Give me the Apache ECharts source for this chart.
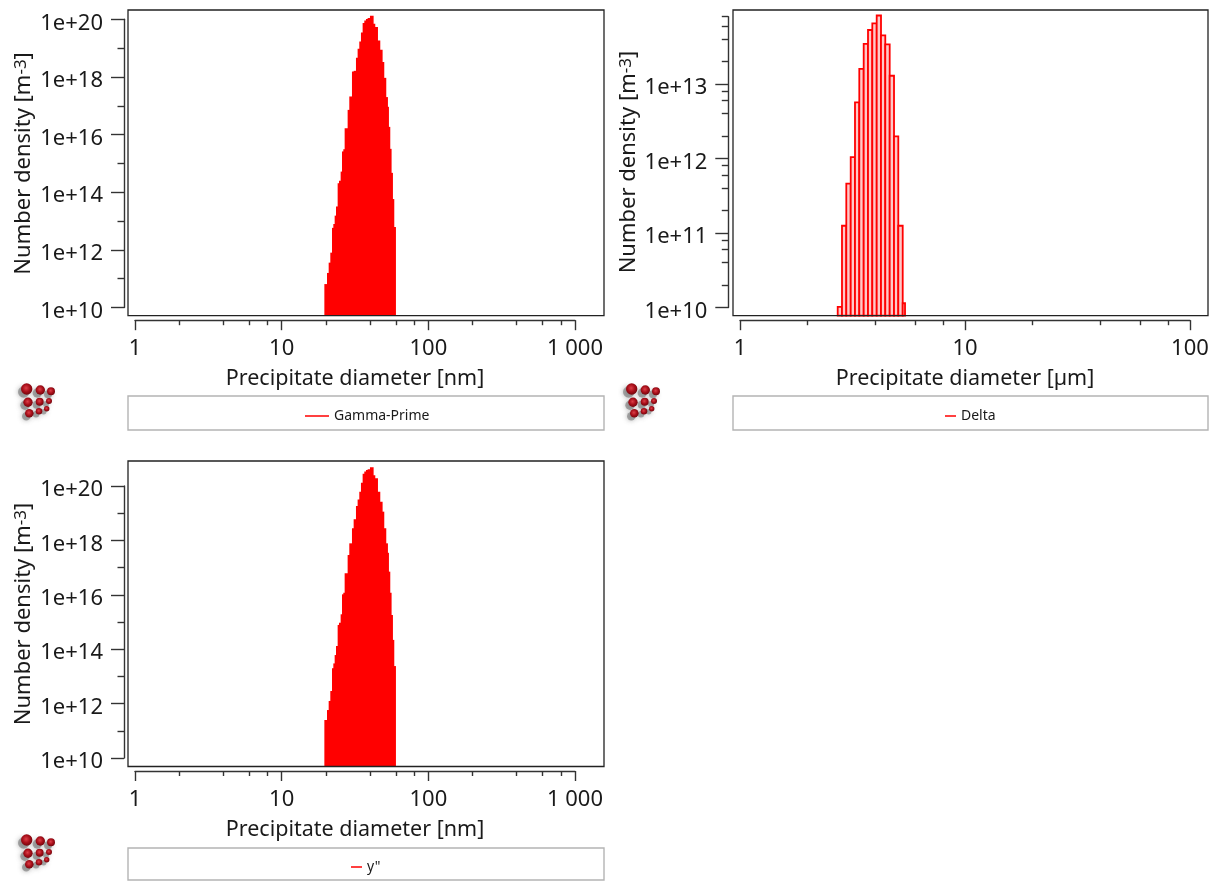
<!DOCTYPE html>
<html><head><meta charset="utf-8">
<style>html,body{margin:0;padding:0;background:#fff}#c{width:1215px;height:882px}</style>
<script src="https://cdn.jsdelivr.net/npm/echarts@6/dist/echarts.min.js"></script></head>
<body><div id="c"></div>
<script>
// Shared bin edges (nm) for the two nm histograms
const nmEdges=[19.70,20.53,21.08,21.63,22.21,22.68,23.16,23.65,24.27,24.79,25.44,25.98,26.53,27.09,28.39,29.14,30.39,31.20,32.36,33.21,34.09,35.00,35.93,36.88,37.86,38.86,40.31,42.03,43.14,45.00,46.66,48.40,49.68,51.26,52.62,53.46,54.59,55.73,56.92,58.13,59.67];
const gammaPrimeValues=[6.5e10,1.58e11,3.6e11,8.0e11,5.8e12,7.9e12,1.54e13,3.2e13,2.05e14,2.5e14,5.2e14,2.6e15,3.1e15,1.67e16,7.2e16,2.1e17,1.54e18,1.63e18,4.6e18,9.5e18,1.7e19,3.5e19,7.4e19,9.1e19,1.02e20,1.1e20,1.32e20,7.0e19,5.4e19,1.84e19,8.7e18,3.3e18,9.3e17,2.0e17,9.2e16,1.85e16,3.2e15,4.7e14,5.8e13,6.2e12];
const gammaDoublePrimeValues=[2.5e11,5.8e11,1.25e12,2.9e12,2.0e13,3.0e13,6.1e13,1.31e14,7.8e14,9.4e14,1.92e15,1.04e16,1.19e16,6.2e16,2.9e17,7.8e17,2.8e18,6.0e18,1.84e19,3.2e19,6.2e19,1.32e20,2.8e20,3.4e20,3.9e20,4.1e20,4.9e20,2.5e20,1.92e20,6.2e19,2.65e19,1.14e19,2.8e18,7.8e17,3.5e17,7.1e16,1.19e16,1.81e15,2.2e14,2.4e13];
const deltaEdges=[2.718,2.840,2.968,3.105,3.244,3.390,3.546,3.706,3.873,4.051,4.233,4.423,4.627,4.836,5.053,5.286,5.413];
const deltaValues=[1.02e10,1.25e11,4.6e11,1.04e12,5.65e12,1.6e13,3.45e13,5.3e13,6.5e13,8.3e13,4.5e13,3.4e13,1.29e13,1.98e12,1.25e11,1.14e10];
const nmMajorX=[1,10,100,1000];
const nmMinorX=[2,4,6,8,20,40,60,80,200,400,600,800];
const umMajorX=[1,10,100];
const umMinorX=[2,4,6,8,20,40,60,80];
const gammaMajorY=[1e10,1e12,1e14,1e16,1e18,1e20];
const gammaMinorY=[1e11,1e13,1e15,1e17,1e19];
const deltaMajorY=[1e10,1e11,1e12,1e13];
const deltaMinorY=[2e10,4e10,6e10,8e10,2e11,4e11,6e11,8e11,2e12,4e12,6e12,8e12,2e13,4e13,6e13,8e13];
const FONT='Noto Sans';
const INK='#333';
const TXT='#1a1a1a';
const RED='#ff0000';

function xFmt(v){return v===1000?'1 000':String(v);}
function yFmt(v){return '{v|1e+'+Math.round(Math.log10(v))+'}';}

const panels=[
 {name:'Gamma-Prime',unit:'nm',left:135,right:575,top:19.3,bottom:307.5,axisX:124,frameLeft:128,frameRight:604,frameTop:10,frameBottom:315.7,xMax:1000,yMax:1e20,base:5.2e9,edges:nmEdges,values:gammaPrimeValues,xMaj:nmMajorX,xMin:nmMinorX,yMaj:gammaMajorY,yMin:gammaMinorY,solid:true,legendTop:396,legendBottom:430,dashX:305,dashW:24,logo:[0,0],nameShift:0},
 {name:'Delta',unit:'µm',left:740,right:1190,top:16.7,bottom:307.5,axisX:728.3,frameLeft:733,frameRight:1208,frameTop:10,frameBottom:315.7,xMax:100,yMax:8e13,base:7.76e9,edges:deltaEdges,values:deltaValues,xMaj:umMajorX,xMin:umMinorX,yMaj:deltaMajorY,yMin:deltaMinorY,solid:false,legendTop:396,legendBottom:430,dashX:945,dashW:11,logo:[605,0],nameShift:0},
 {name:'y"',unit:'nm',left:135,right:575,top:486,bottom:758,axisX:124,frameLeft:128,frameRight:604,frameTop:461,frameBottom:766.5,xMax:1000,yMax:1e20,base:4.87e9,edges:nmEdges,values:gammaDoublePrimeValues,xMaj:nmMajorX,xMin:nmMinorX,yMaj:gammaMajorY,yMin:gammaMinorY,solid:true,legendTop:848,legendBottom:880,dashX:351,dashW:11,logo:[0,451],nameShift:16}
];

const spheres=[[26.7,389,5.7],[40.3,390,4.7],[51,391.3,4],[28,402.3,4.7],[39.7,401.7,4],[49,401,3],[29.3,413.3,4.3],[39,411.3,3.3],[46.7,408.7,2.7]];

const opt={animation:false,backgroundColor:'#fff',textStyle:{fontFamily:FONT},grid:[],xAxis:[],yAxis:[],series:[],legend:[],graphic:[]};
panels.forEach((p,i)=>{
 opt.grid.push({left:p.left,top:p.top,width:p.right-p.left,height:p.bottom-p.top,containLabel:false,show:false});
 const xi=opt.xAxis.length, yi=opt.yAxis.length;
 const lineStyle={color:INK,width:1.4};
 const xBase={type:'log',logBase:10,gridIndex:i,min:1,max:p.xMax,position:'bottom',offset:p.frameBottom-p.bottom+4.5,splitLine:{show:false},minorSplitLine:{show:false},axisLine:{show:true,onZero:false,lineStyle}};
 opt.xAxis.push(Object.assign({},xBase,{name:'Precipitate diameter ['+p.unit+']',nameLocation:'middle',nameGap:48,nameTextStyle:{fontFamily:FONT,fontSize:21.5,color:TXT},
  axisTick:{show:true,length:10,inside:false,customValues:p.xMaj,lineStyle},axisLabel:{show:true,margin:18,fontFamily:FONT,fontSize:22,color:TXT,customValues:p.xMaj,formatter:xFmt,hideOverlap:false}}));
 opt.xAxis.push(Object.assign({},xBase,{axisLine:{show:false},axisTick:{show:true,length:5,customValues:p.xMin,lineStyle},axisLabel:{show:false}}));
 const yBase={type:'log',logBase:10,gridIndex:i,min:1e10,max:p.yMax,position:'left',offset:p.left-p.axisX,splitLine:{show:false},minorSplitLine:{show:false},axisLine:{show:true,onZero:false,lineStyle}};
 opt.yAxis.push(Object.assign({},yBase,{name:'{a|Number density [m}{s|-3}{a|]}',nameLocation:'middle',nameGap:89,nameRotate:90,nameTextStyle:{padding:[0,0,0,p.nameShift],rich:{a:{fontFamily:FONT,fontSize:22,color:TXT},s:{fontFamily:FONT,fontSize:17,color:TXT,verticalAlign:'top',lineHeight:22}}},
  axisTick:{show:true,length:13,customValues:p.yMaj,lineStyle},axisLabel:{show:true,margin:21,customValues:p.yMaj,formatter:yFmt,hideOverlap:false,rich:{v:{fontFamily:FONT,fontSize:22,color:TXT,padding:[8,0,0,0]}}}}));
 opt.yAxis.push(Object.assign({},yBase,{axisLine:{show:false},axisTick:{show:true,length:6.5,customValues:p.yMin,lineStyle},axisLabel:{show:false}}));
 const bars=p.values.map((v,k)=>[p.edges[k],p.edges[k+1],v]);
 opt.series.push({type:'custom',name:p.name,coordinateSystem:'cartesian2d',xAxisIndex:xi,yAxisIndex:yi,clip:false,silent:true,
  data:bars,encode:{x:[0,1],y:2},itemStyle:{color:RED},
  renderItem:(params,api)=>{
   const a=api.coord([api.value(0),api.value(2)]), b=api.coord([api.value(1),p.base]);
   return p.solid?{type:'rect',shape:{x:a[0]-0.5,y:a[1],width:b[0]-a[0]+1,height:b[1]-a[1]},style:{fill:RED}}
     :{type:'rect',shape:{x:a[0],y:a[1],width:b[0]-a[0],height:b[1]-a[1]},style:{fill:'#ffc8c8',stroke:RED,lineWidth:1.8}};
  }});
 const frameW=p.frameRight-p.frameLeft;
 opt.graphic.push({type:'rect',silent:true,z:5,shape:{x:p.frameLeft,y:p.frameTop,width:frameW,height:p.frameBottom-p.frameTop},style:{fill:'none',stroke:'#222',lineWidth:1.3}});
 opt.graphic.push({type:'rect',silent:true,z:0,shape:{x:p.frameLeft,y:p.legendTop,width:frameW,height:p.legendBottom-p.legendTop},style:{fill:'#fff',stroke:'#b4b4b4',lineWidth:1.4}});
 opt.legend.push({show:true,data:[{name:p.name,icon:'rect',itemStyle:{color:RED}}],left:p.dashX,top:(p.legendTop+p.legendBottom)/2-4,
   orient:'horizontal',align:'left',itemWidth:p.dashW,itemHeight:1.5,padding:0,textStyle:{fontFamily:FONT,fontSize:14,color:TXT},selectedMode:false});
 spheres.forEach(s=>{
  const cx=s[0]+p.logo[0], cy=s[1]+p.logo[1], r=s[2];
  opt.graphic.push({type:'circle',silent:true,z:1,shape:{cx:cx-3,cy:cy+3,r:r},style:{fill:'rgba(110,110,110,0.55)',shadowBlur:5,shadowColor:'rgba(80,80,80,0.8)'}});
  opt.graphic.push({type:'circle',silent:true,z:2,shape:{cx,cy,r},style:{fill:{type:'radial',x:0.45,y:0.42,r:0.65,colorStops:[{offset:0,color:'#dc3f48'},{offset:0.5,color:'#a80f1a'},{offset:1,color:'#64040a'}]}}});
 });
});
const chart=echarts.init(document.getElementById('c'),null,{renderer:'canvas',width:1215,height:882});
chart.setOption(opt);
</script></body></html>
